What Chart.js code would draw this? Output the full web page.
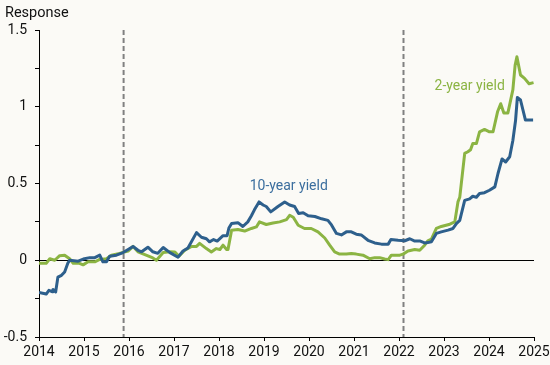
<!DOCTYPE html>
<html>
<head>
<meta charset="utf-8">
<script src="https://cdn.jsdelivr.net/npm/chart.js@4.4.1/dist/chart.umd.min.js"></script>
<style>
  html, body { margin: 0; padding: 0; background: #FBFAF6; }
  #wrap { width: 550px; height: 365px; position: relative; }
</style>
</head>
<body>
<div id="wrap"><canvas id="c" width="550" height="365"></canvas></div>
<script>
// ---- Data (decimal years, response) ----
const tenYearDates = [2014.00,2014.16,2014.22,2014.29,2014.31,2014.37,2014.42,2014.50,2014.57,2014.64,2014.68,2014.87,2015.01,2015.13,2015.24,2015.35,2015.42,2015.50,2015.57,2015.72,2015.87,2016.09,2016.20,2016.28,2016.42,2016.53,2016.64,2016.76,2016.91,2017.09,2017.20,2017.31,2017.50,2017.61,2017.72,2017.79,2017.88,2017.96,2018.09,2018.18,2018.22,2018.28,2018.42,2018.53,2018.64,2018.72,2018.79,2018.89,2018.98,2019.05,2019.15,2019.31,2019.46,2019.57,2019.68,2019.77,2019.87,2019.98,2020.13,2020.28,2020.42,2020.50,2020.61,2020.72,2020.83,2020.94,2021.05,2021.16,2021.31,2021.46,2021.61,2021.76,2021.82,2021.98,2022.13,2022.24,2022.35,2022.46,2022.57,2022.64,2022.72,2022.83,2022.94,2023.09,2023.20,2023.28,2023.35,2023.46,2023.57,2023.64,2023.72,2023.79,2023.90,2024.01,2024.13,2024.20,2024.29,2024.37,2024.46,2024.53,2024.59,2024.63,2024.70,2024.81,2024.98];
const tenYearValues = [-0.21,-0.22,-0.196,-0.205,-0.19,-0.207,-0.11,-0.098,-0.076,-0.02,0.0,-0.006,0.01,0.017,0.017,0.033,-0.01,-0.01,0.026,0.033,0.05,0.09,0.065,0.055,0.085,0.055,0.045,0.083,0.05,0.02,0.06,0.08,0.18,0.15,0.14,0.12,0.135,0.125,0.16,0.16,0.21,0.24,0.245,0.22,0.25,0.29,0.33,0.38,0.36,0.35,0.315,0.35,0.38,0.36,0.35,0.305,0.31,0.29,0.285,0.27,0.26,0.23,0.175,0.165,0.185,0.185,0.17,0.165,0.13,0.113,0.105,0.105,0.135,0.13,0.127,0.14,0.125,0.126,0.113,0.115,0.12,0.175,0.185,0.196,0.207,0.24,0.26,0.39,0.40,0.417,0.41,0.435,0.44,0.456,0.478,0.565,0.66,0.64,0.674,0.78,0.91,1.06,1.044,0.913,0.913];

const twoYearDates = [2014.00,2014.16,2014.24,2014.35,2014.46,2014.57,2014.68,2014.76,2014.90,2014.98,2015.09,2015.24,2015.35,2015.50,2015.61,2015.79,2015.98,2016.09,2016.20,2016.38,2016.53,2016.61,2016.76,2016.91,2017.02,2017.11,2017.24,2017.39,2017.50,2017.57,2017.72,2017.83,2017.94,2018.02,2018.09,2018.17,2018.20,2018.28,2018.42,2018.57,2018.72,2018.83,2018.90,2019.05,2019.20,2019.35,2019.50,2019.57,2019.65,2019.76,2019.90,2020.05,2020.20,2020.35,2020.46,2020.57,2020.68,2020.83,2020.94,2021.05,2021.20,2021.35,2021.46,2021.57,2021.68,2021.76,2021.83,2022.02,2022.09,2022.20,2022.35,2022.46,2022.57,2022.64,2022.72,2022.83,2022.94,2023.13,2023.24,2023.31,2023.35,2023.46,2023.53,2023.59,2023.64,2023.72,2023.79,2023.90,2024.01,2024.09,2024.19,2024.26,2024.33,2024.42,2024.53,2024.58,2024.62,2024.70,2024.79,2024.89,2024.99];
const twoYearValues = [-0.02,-0.02,0.01,0.0,0.03,0.033,0.01,-0.02,-0.02,-0.03,-0.01,-0.01,0.005,0.01,0.033,0.045,0.06,0.09,0.055,0.033,0.015,0.0,0.05,0.055,0.054,0.026,0.065,0.09,0.09,0.11,0.076,0.054,0.076,0.07,0.098,0.07,0.07,0.196,0.2,0.19,0.207,0.217,0.25,0.233,0.243,0.25,0.265,0.293,0.28,0.228,0.207,0.207,0.185,0.145,0.098,0.054,0.04,0.04,0.044,0.04,0.033,0.01,0.017,0.017,0.008,0.004,0.033,0.033,0.04,0.06,0.07,0.065,0.098,0.126,0.137,0.207,0.22,0.235,0.25,0.38,0.41,0.696,0.707,0.72,0.76,0.76,0.837,0.852,0.837,0.837,0.967,1.02,0.96,0.96,1.11,1.27,1.326,1.207,1.185,1.15,1.157];

const xTickYears = [2014,2015,2016,2017,2018,2019,2020,2021,2022,2023,2024,2025];
const yTickLabels = ['-0.5','0','0.5','1','1.5'];
const liftoffDates = [2015.88, 2022.10];
const seriesLabels = ['10-year yield', '2-year yield'];
const labelPositions = [[2019.55, 0.48], [2023.57, 1.13]];

const BLUE = '#2D5F8C';
const BLUE_TEXT = '#3B6E9E';
const GREEN = '#8BB443';
const BG = '#FBFAF6';
const FONT = 'Roboto, "Liberation Sans", sans-serif';

function toPts(xs, ys) { return xs.map((x, i) => ({ x: x, y: ys[i] })); }

const overlay = {
  id: 'overlay',
  beforeDraw(chart) {
    const ctx = chart.ctx;
    ctx.save();
    ctx.fillStyle = BG;
    ctx.fillRect(0, 0, chart.width, chart.height);
    ctx.restore();
  },
  beforeDatasetsDraw(chart) {
    const ctx = chart.ctx, xs = chart.scales.x, ys = chart.scales.y;
    const a = chart.chartArea;
    ctx.save();
    ctx.strokeStyle = '#000';
    ctx.lineWidth = 1;
    const y0 = Math.round(ys.getPixelForValue(0)) + 0.5;
    ctx.beginPath(); ctx.moveTo(a.left, y0); ctx.lineTo(xs.getPixelForValue(2025), y0); ctx.stroke();
    ctx.strokeStyle = '#808080';
    ctx.lineWidth = 2;
    ctx.setLineDash([5, 3]);
    liftoffDates.forEach(d => {
      const px = xs.getPixelForValue(d);
      ctx.beginPath(); ctx.moveTo(px, a.top); ctx.lineTo(px, a.bottom); ctx.stroke();
    });
    ctx.restore();
  },
  afterDatasetsDraw(chart) {
    const ctx = chart.ctx, xs = chart.scales.x, ys = chart.scales.y;
    ctx.save();
    ctx.font = '14px ' + FONT;
    ctx.textAlign = 'center';
    ctx.textBaseline = 'middle';
    ctx.fillStyle = BLUE_TEXT;
    ctx.fillText(seriesLabels[0], xs.getPixelForValue(labelPositions[0][0]), ys.getPixelForValue(labelPositions[0][1]));
    ctx.fillStyle = GREEN;
    ctx.fillText(seriesLabels[1], xs.getPixelForValue(labelPositions[1][0]), ys.getPixelForValue(labelPositions[1][1]));
    ctx.fillStyle = '#111';
    ctx.textAlign = 'left';
    ctx.textBaseline = 'alphabetic';
    ctx.font = '14.5px ' + FONT;
    ctx.fillText('Response', 5, 17);
    ctx.restore();
  }
};

new Chart(document.getElementById('c'), {
  type: 'line',
  data: {
    datasets: [
      { label: seriesLabels[0], data: toPts(tenYearDates, tenYearValues), borderColor: BLUE, borderWidth: 3, pointRadius: 0, tension: 0, fill: false, borderJoinStyle: 'round' },
      { label: seriesLabels[1], data: toPts(twoYearDates, twoYearValues), borderColor: GREEN, borderWidth: 3, pointRadius: 0, tension: 0, fill: false, borderJoinStyle: 'round' }
    ]
  },
  options: {
    responsive: false,
    animation: false,
    devicePixelRatio: 1,
    layout: { padding: { top: 30, right: 16, left: 0, bottom: 0 } },
    plugins: { legend: { display: false }, tooltip: { enabled: false } },
    scales: {
      x: {
        type: 'linear',
        min: 2014, max: 2025,
        afterBuildTicks(scale) { scale.ticks = xTickYears.map(v => ({ value: v })); },
        afterFit(scale) { scale.height = 28; scale.paddingLeft = 0; scale.paddingRight = 0; },
        ticks: { autoSkip: false, maxRotation: 0, padding: 3, color: '#111', font: { family: FONT, size: 14 }, callback: v => String(v) },
        grid: { display: true, drawOnChartArea: false, drawTicks: true, tickLength: 4, color: '#000', lineWidth: 1 },
        border: { display: true, color: '#000', width: 1 }
      },
      y: {
        type: 'linear',
        min: -0.5, max: 1.5,
        afterBuildTicks(scale) {
          const t = [];
          for (let i = 0; i <= 8; i++) t.push({ value: -0.5 + i * 0.25 });
          scale.ticks = t;
        },
        afterFit(scale) { scale.width = 39; scale.paddingTop = 0; scale.paddingBottom = 0; },
        ticks: {
          autoSkip: false, padding: 8, color: '#111', font: { family: FONT, size: 14 },
          callback: (v, i) => (i % 2 === 0 ? yTickLabels[i / 2] : '')
        },
        grid: { display: true, drawOnChartArea: false, drawTicks: true, tickLength: 4, color: '#000', lineWidth: 1 },
        border: { display: true, color: '#000', width: 1 }
      }
    }
  },
  plugins: [overlay]
});
</script>
</body>
</html>
